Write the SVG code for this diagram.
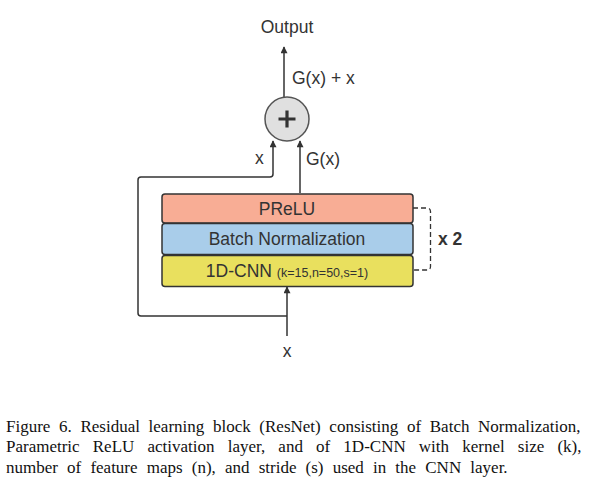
<svg xmlns="http://www.w3.org/2000/svg" width="597" height="485" viewBox="0 0 597 485">
<defs>
<style>
.lbl{font-family:"Liberation Sans",Arial,sans-serif;font-size:17.5px;fill:#333}
.cap{font-family:"Liberation Serif","Times New Roman",serif;font-size:17px;fill:#111}
.box{stroke:#333;stroke-width:1.5}
.conn{fill:none;stroke:#333;stroke-width:1.5}
</style>
<marker id="arrL" viewBox="0 0 10 10" refX="9" refY="5" markerWidth="10" markerHeight="7" markerUnits="userSpaceOnUse" orient="auto">
<path d="M0,0 L10,5 L0,10 z" fill="#333"/>
</marker>
</defs>
<rect width="597" height="485" fill="#fff"/>

<g id="connectors">
<path class="conn" d="M287,336 L287,287" marker-end="url(#arrL)"/>
<path class="conn" d="M287,316 L141,316 Q138,316 138,313 L138,180 Q138,177 141,177 L270,177 Q273,177 273,174 L273,141" marker-end="url(#arrL)"/>
<path class="conn" d="M300,193 L300,141" marker-end="url(#arrL)"/>
<path class="conn" d="M284,97 L284,47" marker-end="url(#arrL)"/>
<path d="M413,208 L427,208 Q430.5,208 430.5,211.5 L430.5,266.5 Q430.5,270 427,270 L413,270" fill="none" stroke="#333" stroke-width="1.3" stroke-dasharray="5,3"/>
</g>

<g id="output">
<text class="lbl" x="287" y="33" text-anchor="middle">Output</text>
</g>
<g id="sum-label">
<text class="lbl" x="292" y="84">G(x) + x</text>
</g>
<g id="plus">
<circle cx="287" cy="119" r="22" fill="#e0e0e0" stroke="#555" stroke-width="1.5"/>
<path d="M278.5,119 L295.5,119 M287,110.5 L287,127.5" stroke="#333" stroke-width="3.2"/>
</g>
<g id="x-label"><text class="lbl" x="255" y="164">x</text></g>
<g id="gx-label"><text class="lbl" x="306" y="165">G(x)</text></g>

<g id="prelu">
<rect class="box" x="162" y="194" width="251" height="29" rx="3" fill="#f8ad95"/>
<text class="lbl" x="287" y="215" text-anchor="middle">PReLU</text>
</g>
<g id="batchnorm">
<rect class="box" x="162" y="223.5" width="251" height="31" rx="3" fill="#a9cdea"/>
<text class="lbl" x="287" y="244.5" text-anchor="middle">Batch Normalization</text>
</g>
<g id="cnn">
<rect class="box" x="162" y="255.5" width="251" height="31" rx="3" fill="#e9e05e"/>
<text class="lbl" x="287" y="276.5" text-anchor="middle">1D-CNN <tspan style="font-size:12.5px">(k=15,n=50,s=1)</tspan></text>
</g>
<g id="repeat">
<text class="lbl" x="438" y="245" style="font-weight:bold">x 2</text>
</g>
<g id="input">
<text class="lbl" x="287" y="357" text-anchor="middle">x</text>
</g>

<g id="caption">
<text class="cap" x="6" y="432" style="word-spacing:4.4px">Figure 6. Residual learning block (ResNet) consisting of Batch Normalization,</text>
<text class="cap" x="6" y="452.3" style="word-spacing:8.9px">Parametric ReLU activation layer, and of 1D-CNN with kernel size (k),</text>
<text class="cap" x="6" y="472.6" style="word-spacing:4.9px">number of feature maps (n), and stride (s) used in the CNN layer.</text>
</g>
</svg>
